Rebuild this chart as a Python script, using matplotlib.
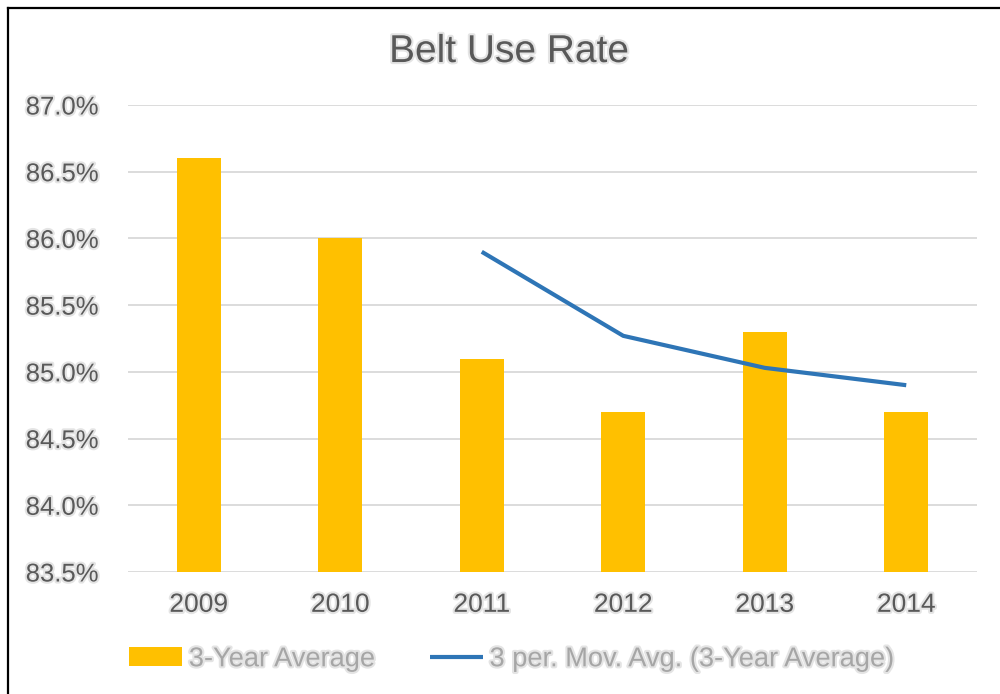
import matplotlib
matplotlib.use("Agg")
from matplotlib import pyplot as plt
from matplotlib.lines import Line2D
import matplotlib.patheffects as pe

years = ["2009", "2010", "2011", "2012", "2013", "2014"]
avg3 = [86.6, 86.0, 85.1, 84.7, 85.3, 84.7]
# moving average points, starting at 2011
mov_years = ["2011", "2012", "2013", "2014"]
mov_avg = [85.9, 85.27, 85.03, 84.9]

plt.rcParams['font.family'] = ['Liberation Sans', 'DejaVu Sans']
glow = [pe.withStroke(linewidth=3, foreground='#e4e4e4')]

fig = plt.figure(figsize=(10, 6.94), dpi=100)
ax = fig.add_axes([0.128, 0.1758, 0.849, 0.6729])

x = list(range(len(years)))
bars = ax.bar(x, avg3, width=0.31, color='#FFC000', label='3-Year Average', zorder=2)
mx = [years.index(y) for y in mov_years]
line, = ax.plot(mx, mov_avg, color='#2E75B6', lw=3, solid_capstyle='butt',
                label='3 per. Mov. Avg. (3-Year Average)', zorder=3)

ax.set_ylim(83.5, 87.0)
ax.set_xlim(-0.5, len(years) - 0.5)
yt = [83.5 + 0.5 * i for i in range(8)]
ax.set_yticks(yt)
ax.set_yticklabels([f"{v:.1f}%" for v in yt])
ax.set_xticks(x)
ax.set_xticklabels(years)
ax.grid(axis='y', color='#D9D9D9', lw=1.3, zorder=0)
ax.set_axisbelow(True)
for s in ax.spines.values():
    s.set_visible(False)
ax.tick_params(length=0, labelcolor='#595959')
ax.tick_params(axis='y', labelsize=18.5, pad=21)
ax.tick_params(axis='x', labelsize=19, pad=15)
for t in ax.get_xticklabels() + ax.get_yticklabels():
    t.set_path_effects(glow)

fig.text(0.509, 0.925, "Belt Use Rate", ha='center', va='center', fontsize=28,
         color='#595959', path_effects=glow)

leg = fig.legend([bars, line], [bars.get_label(), line.get_label()],
                 loc='center', bbox_to_anchor=(0.512, 0.05), ncol=2, frameon=False,
                 fontsize=19.6, handlelength=1.95, handletextpad=0.25, columnspacing=2.0)
for t in leg.get_texts():
    t.set_color('#A6A6A6')
    t.set_path_effects(glow)

fig.add_artist(Line2D([0.008, 0.008], [0, 1 - 8 / 694], color='black', lw=1.6))
fig.add_artist(Line2D([0.008, 1], [1 - 8 / 694, 1 - 8 / 694], color='black', lw=1.6))

fig.savefig("out.png", dpi=100)
